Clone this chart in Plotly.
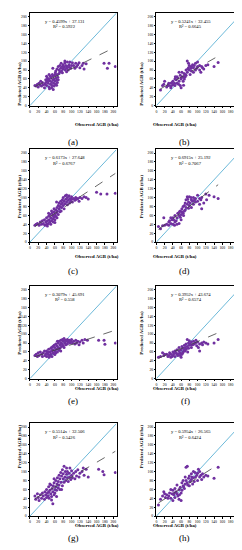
import plotly.graph_objects as go

# ---------------- data ----------------
labels = ["(a)", "(b)", "(c)", "(d)", "(e)", "(f)", "(g)", "(h)"]
slopes = [0.4599, 0.5241, 0.6173, 0.6915, 0.3079, 0.3952, 0.5514, 0.5954]
intercepts = [37.131, 32.455, 27.648, 25.192, 45.691, 43.674, 32.506, 26.565]
r2_values = ["0.5922", "0.6645", "0.6767", "0.7067", "0.558", "0.6574", "0.5426", "0.6424"]
tick_values = [0, 20, 40, 60, 80, 100, 120, 140, 160, 180, 200]
axis_max = 208

obs_a = [12,15,18,20,22,25,28,30,32,26,35,36,
         38,40,42,44,45,46,48,50,50,52,53,55,55,57,58,60,60,62,63,64,65,66,67,68,70,42,47,52,56,44,49,58,61,54,38,40,46,64,
         65,68,70,72,74,75,76,78,80,80,82,84,85,86,88,90,90,92,94,95,96,98,100,72,78,62,55,88,102,84,
         105,108,110,112,115,120,125,128,130,118,135,
         178,190,186,205]
pred_a = [45,44,48,42,50,46,44,52,47,55,40,48,
          52,45,55,50,60,42,56,48,62,53,45,58,66,50,60,55,68,48,62,57,70,52,64,58,72,62,38,40,36,58,66,44,74,70,58,66,70,46,
          82,88,80,90,84,95,78,88,92,82,86,96,80,90,84,98,88,80,92,86,98,84,90,76,74,78,84,76,96,100,
          90,84,95,88,92,85,90,95,82,96,94,
          95,95,84,88]

obs_b = [10,15,18,20,25,30,35,35,40,40,45,45,50,50,55,55,58,60,60,62,65,65,68,70,70,72,75,75,78,78,
         80,80,82,85,85,88,90,90,95,95,100,100,105,105,108,110,112,115,120,125,140,150,
         48,52,58,62,67,72,38,44,30,66,76,84,92,98,46,54,36,28]
pred_b = [35,45,48,55,42,45,40,50,47,55,45,60,50,65,55,75,45,60,40,75,55,65,60,70,65,80,75,100,95,85,
          80,90,70,88,78,92,85,75,80,95,88,98,80,90,75,88,85,82,90,92,88,97,
          58,62,68,64,72,68,52,50,50,46,82,84,90,84,65,48,44,46]

obs_c = [12,15,18,22,25,28,30,32,35,36,38,40,40,42,44,45,46,48,48,50,50,52,53,55,55,56,58,58,60,60,
         62,62,64,65,65,66,68,68,70,70,72,72,74,75,76,78,78,80,80,82,84,85,86,88,88,90,92,94,95,96,
         98,100,100,102,105,108,110,112,115,118,120,125,130,135,140,160,170,185,205,
         45,52,58,42,60,75,82,64,90]
pred_c = [38,40,42,38,45,40,48,42,50,38,45,40,55,48,42,58,50,45,62,55,40,48,65,52,60,45,68,56,62,50,
          72,58,66,55,78,70,62,82,75,88,80,68,92,85,78,95,88,100,82,92,86,104,96,90,106,100,94,104,88,98,
          92,102,96,90,98,94,100,96,98,92,100,98,102,100,97,112,108,108,110,
          65,70,75,36,44,70,75,90,84]

obs_d = [5,10,15,18,20,25,30,32,35,35,40,40,42,45,45,50,50,55,55,58,60,60,62,65,65,68,70,70,72,75,
         75,78,80,80,82,85,85,88,90,90,95,95,100,100,105,105,108,110,110,115,120,122,128,140,150,
         48,52,58,62,66,72,78,84,92,30,38,44,56,68,76]
pred_d = [35,30,37,55,38,40,38,48,55,42,40,55,50,60,45,40,55,60,42,70,62,50,75,65,80,70,88,72,95,85,
          102,90,102,82,88,95,78,92,100,85,90,98,105,92,98,85,95,75,100,88,108,95,105,102,98,
          48,65,56,68,60,78,76,100,94,45,50,38,68,82,96]

obs_e = [12,15,18,20,22,25,28,30,32,35,36,38,40,40,42,44,45,46,48,50,50,52,53,55,55,56,58,58,60,60,
         62,62,64,65,66,68,68,70,70,72,72,74,75,76,78,78,80,80,82,84,85,86,88,90,90,92,94,96,98,100,
         102,105,108,110,112,115,118,120,125,128,132,138,165,178,180,205,
         44,52,60,66,54,48,74,82]
pred_e = [52,55,50,58,52,60,55,50,58,62,52,56,50,62,58,54,66,48,60,55,68,62,50,58,72,65,56,75,62,70,
          58,78,66,74,60,80,70,64,84,76,68,86,80,72,88,78,84,74,90,80,86,76,84,88,78,82,86,80,84,88,
          80,84,78,86,80,84,76,82,86,80,88,86,86,86,77,80,
          60,70,54,84,64,52,62,70]

obs_f = [5,10,15,18,20,25,28,30,32,35,38,40,40,42,45,45,48,50,50,52,55,55,58,60,60,62,62,65,65,68,
         70,70,72,75,75,78,78,80,80,82,85,85,88,90,92,95,98,100,102,105,105,110,112,115,120,125,140,150,
         35,58,64,72,76,84,96,46,54,68]
pred_f = [48,50,58,52,55,55,50,52,58,55,50,60,52,56,62,50,58,55,65,52,62,70,58,48,65,72,55,68,60,75,
          70,62,78,72,88,80,68,75,85,78,82,70,76,84,78,80,74,82,70,62,78,80,76,82,80,78,80,88,
          48,52,58,66,60,76,86,58,56,64]

obs_g = [12,14,18,20,22,25,28,30,32,35,36,38,40,40,42,44,45,46,48,50,50,52,53,55,55,56,58,58,60,60,
         62,62,64,65,66,68,68,70,70,72,72,74,75,76,78,78,80,80,82,82,84,85,86,88,88,90,90,92,94,95,
         96,98,100,100,102,105,108,110,112,115,118,120,125,128,130,135,140,165,175,178,205,
         45,52,64,76,58,48]
pred_g = [45,38,50,42,35,48,40,52,45,38,55,48,42,60,52,46,66,40,58,50,70,44,62,28,55,68,48,75,60,52,
          80,66,58,72,86,64,78,92,70,84,60,98,76,90,68,104,84,95,76,112,88,100,80,94,108,86,100,78,96,88,
          108,82,92,102,86,96,84,100,90,104,88,96,100,108,92,105,88,105,100,93,98,
          54,36,44,60,84,72]

obs_h = [5,10,15,18,20,22,25,30,32,35,35,38,40,40,42,45,45,48,50,50,52,55,55,58,60,60,62,62,65,65,
         68,70,70,72,72,75,75,78,80,80,82,85,85,88,90,90,92,95,98,100,100,102,105,105,108,110,112,115,120,125,
         140,150,28,44,56,66,76,86,94]
pred_h = [25,38,45,55,50,42,48,45,52,40,60,50,35,58,48,62,42,55,50,70,45,60,38,65,35,52,75,58,68,80,
          62,72,88,80,110,75,112,85,68,90,78,82,95,72,86,100,78,88,92,80,96,105,88,100,92,82,95,88,92,90,
          85,110,40,52,48,66,70,88,98]

observed = [obs_a, obs_b, obs_c, obs_d, obs_e, obs_f, obs_g, obs_h]
predicted = [pred_a, pred_b, pred_c, pred_d, pred_e, pred_f, pred_g, pred_h]

# ---------------- layout geometry ----------------
W, H = 242, 550
col_px = [(21, 108), (148, 234)]
row_px = [(5, 98), (142, 235), (279, 372), (417, 510)]
FONT = "Liberation Serif, Times New Roman, serif"

fig = go.Figure()
layout_axes = {}
annotations = []

for i in range(8):
    r, c = divmod(i, 2)
    suf = "" if i == 0 else str(i + 1)
    xref, yref = "x" + suf, "y" + suf
    x0, x1 = col_px[c]
    top, bot = row_px[r]
    xd = [x0 / W, x1 / W]
    yd = [1 - bot / H, 1 - top / H]

    # 1:1 line
    fig.add_trace(go.Scatter(x=[0, axis_max], y=[0, axis_max], mode="lines",
                             line=dict(color="#6cb9d9", width=1),
                             xaxis=xref, yaxis=yref, showlegend=False, hoverinfo="skip"))
    # points
    fig.add_trace(go.Scatter(x=observed[i], y=predicted[i], mode="markers",
                             marker=dict(color="#7030A0", size=3, line=dict(width=0)),
                             xaxis=xref, yaxis=yref, showlegend=False))
    # regression line
    xmin, xmax = min(observed[i]), max(observed[i])
    fig.add_trace(go.Scatter(x=[xmin, xmax],
                             y=[slopes[i] * xmin + intercepts[i], slopes[i] * xmax + intercepts[i]],
                             mode="lines", line=dict(color="#404040", width=0.8, dash="dash"),
                             xaxis=xref, yaxis=yref, showlegend=False, hoverinfo="skip"))

    common = dict(range=[0, axis_max], tickvals=tick_values, showgrid=False, zeroline=False,
                  showline=True, linecolor="black", linewidth=0.8, mirror=True,
                  ticks="outside", ticklen=1.5, tickwidth=0.6, tickcolor="black", tickangle=0,
                  tickfont=dict(family=FONT, size=3.8, color="black"), fixedrange=True)
    layout_axes["xaxis" + suf] = dict(domain=xd, anchor=yref, **common)
    layout_axes["yaxis" + suf] = dict(domain=yd, anchor=xref, **common)

    # equation text
    annotations.append(dict(x=84, y=190, xref=xref, yref=yref, showarrow=False,
                            text=f"y = {slopes[i]:.4f}x + {intercepts[i]}",
                            font=dict(family=FONT, size=4.6, color="black")))
    annotations.append(dict(x=84, y=177, xref=xref, yref=yref, showarrow=False,
                            text=f"R² = {r2_values[i]}",
                            font=dict(family=FONT, size=4.6, color="black")))
    # axis titles
    annotations.append(dict(x=(x0 + x1) / 2 / W, y=1 - (bot + 14) / H, xref="paper", yref="paper",
                            showarrow=False, text="<b>Observed AGB (t/ha)</b>",
                            font=dict(family=FONT, size=4.8, color="black")))
    annotations.append(dict(x=(x0 - 15) / W, y=1 - (top + bot) / 2 / H, xref="paper", yref="paper",
                            showarrow=False, textangle=-90, text="<b>Predicted AGB (t/ha)</b>",
                            font=dict(family=FONT, size=4.8, color="black")))
    # panel label
    annotations.append(dict(x=(x0 + 36) / W, y=1 - (bot + 29) / H, xref="paper", yref="paper",
                            showarrow=False, text=labels[i],
                            font=dict(family=FONT, size=9, color="black")))

fig.update_layout(width=W, height=H, margin=dict(l=0, r=0, t=0, b=0),
                  paper_bgcolor="white", plot_bgcolor="white",
                  annotations=annotations, **layout_axes)

fig.write_html("out.html")
